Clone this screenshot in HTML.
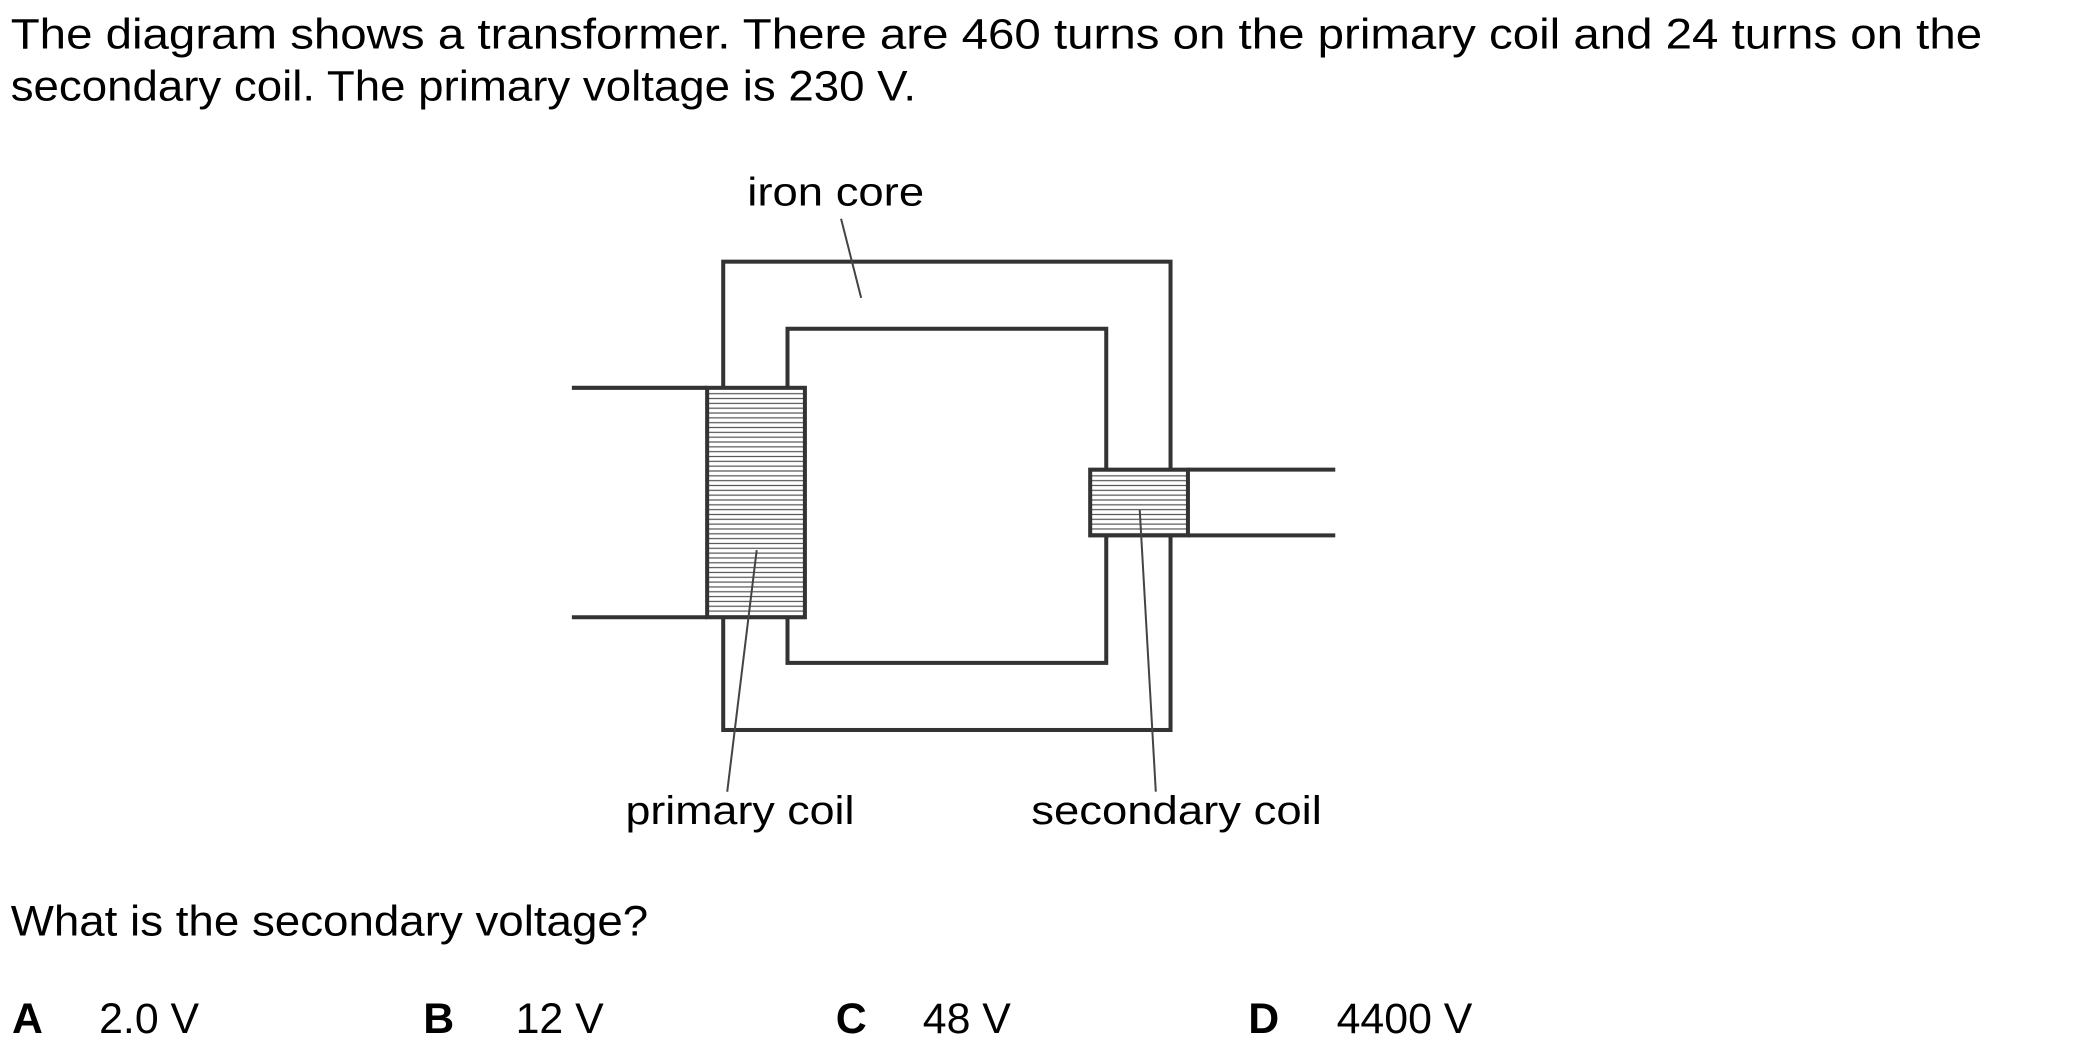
<!DOCTYPE html>
<html><head><meta charset="utf-8"><style>
html,body{margin:0;padding:0;background:#fff;}
svg{display:block;}
text{font-family:"Liberation Sans",Arial,sans-serif;fill:#000;}
</style></head><body>
<svg width="2100" height="1048" viewBox="0 0 1568 781" preserveAspectRatio="none" xmlns="http://www.w3.org/2000/svg">
<defs>
<pattern id="h" width="10" height="3.6" patternUnits="userSpaceOnUse">
<rect width="10" height="3.6" fill="#fff"/>
<line x1="0" y1="1.8" x2="10" y2="1.8" stroke="#555" stroke-width="0.9"/>
</pattern>
</defs>
<text x="8" y="36" font-size="32" textLength="1472" lengthAdjust="spacingAndGlyphs">The diagram shows a transformer. There are 460 turns on the primary coil and 24 turns on the</text>
<text x="8" y="75" font-size="32" textLength="676" lengthAdjust="spacingAndGlyphs">secondary coil. The primary voltage is 230 V.</text>

<g fill="none" stroke="#333" stroke-width="3">
<rect x="540" y="195" width="334" height="349"/>
<rect x="588" y="245" width="238" height="249"/>
<line x1="427" y1="289" x2="528" y2="289"/>
<line x1="427" y1="460" x2="528" y2="460"/>
<line x1="887" y1="350" x2="997" y2="350"/>
<line x1="887" y1="399" x2="997" y2="399"/>
</g>
<rect x="528" y="289" width="73" height="171" fill="url(#h)" stroke="#333" stroke-width="3"/>
<rect x="814" y="350" width="73" height="49" fill="url(#h)" stroke="#333" stroke-width="3"/>
<g stroke="#444" stroke-width="1.5">
<line x1="628" y1="163" x2="643" y2="222"/>
<line x1="565" y1="410" x2="543" y2="590"/>
<line x1="851" y1="380" x2="863" y2="590"/>
</g>
<text x="558" y="153" font-size="30" textLength="132" lengthAdjust="spacingAndGlyphs">iron core</text>
<text x="467" y="614" font-size="30" textLength="171" lengthAdjust="spacingAndGlyphs">primary coil</text>
<text x="770" y="614" font-size="30" textLength="217" lengthAdjust="spacingAndGlyphs">secondary coil</text>

<text x="8" y="697" font-size="32" textLength="476" lengthAdjust="spacingAndGlyphs">What is the secondary voltage?</text>
<g font-size="32">
<text x="9" y="770" font-weight="bold">A</text>
<text x="74" y="770">2.0 V</text>
<text x="316" y="770" font-weight="bold">B</text>
<text x="385" y="770">12 V</text>
<text x="624" y="770" font-weight="bold">C</text>
<text x="689" y="770">48 V</text>
<text x="932" y="770" font-weight="bold">D</text>
<text x="998" y="770">4400 V</text>
</g>
</svg>
</body></html>
